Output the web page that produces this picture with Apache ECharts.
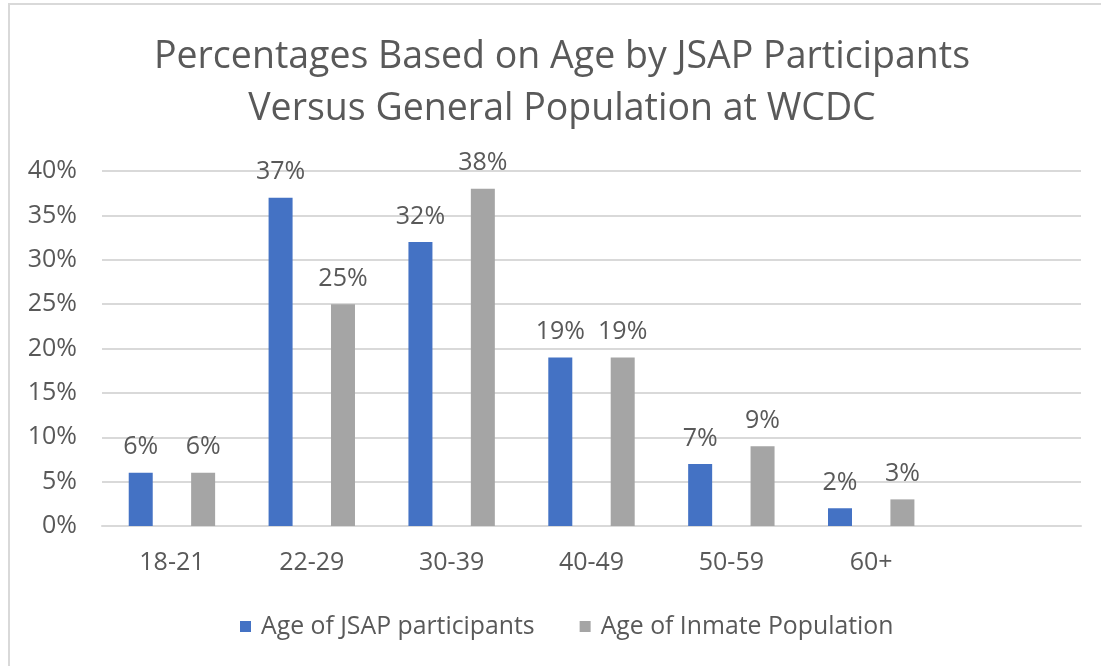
<!DOCTYPE html>
<html>
<head>
<meta charset="utf-8">
<script src="https://cdn.jsdelivr.net/npm/echarts@6/dist/echarts.min.js"></script>
<style>
html, body { margin: 0; padding: 0; background: #fff; }
#frame {
    position: absolute; left: 8px; top: 3px; width: 1100px; height: 670px;
    border: 2px solid #d9d9d9; box-sizing: border-box;
}
#chart { position: absolute; left: 0; top: 0; width: 1101px; height: 666px; }
</style>
</head>
<body>
<div id="frame"></div>
<div id="chart"></div>
<script>
// age groups (last slot is empty in the original chart)
const categories = ['18-21', '22-29', '30-39', '40-49', '50-59', '60+', ''];
const jsapValues = [6, 37, 32, 19, 7, 2, null];
const inmateValues = [6, 25, 38, 19, 9, 3, null];
const yTicks = [0, 5, 10, 15, 20, 25, 30, 35, 40];

const FONT = '"Open Sans", "Noto Sans", sans-serif';
const TXT = '#595959';

const chart = echarts.init(document.getElementById('chart'));

const barLabel = {
    show: true,
    position: 'top',
    distance: 13,
    formatter: '{c}%',
    color: TXT,
    fontSize: 25,
    fontFamily: FONT
};

chart.setOption({
    animation: false,
    backgroundColor: 'transparent',
    title: {
        text: 'Percentages Based on Age by JSAP Participants\nVersus General Population at WCDC',
        left: 557,
        textAlign: 'center',
        top: 26,
        textStyle: {
            color: TXT,
            fontSize: 37.5,
            fontWeight: 'normal',
            fontFamily: FONT,
            lineHeight: 52
        }
    },
    legend: {
        top: 609,
        left: 235,
        itemWidth: 11,
        itemHeight: 11,
        itemGap: 45,
        icon: 'rect',
        textStyle: { color: TXT, fontSize: 24.8, fontFamily: FONT, padding: [0, 0, 0, 5] }
    },
    grid: { left: 102, right: 20, top: 171, bottom: 140 },
    xAxis: {
        type: 'category',
        data: categories,
        axisLine: { lineStyle: { color: '#d9d9d9', width: 2 } },
        axisTick: { show: false },
        axisLabel: { color: TXT, fontSize: 25, fontFamily: FONT, margin: 24 }
    },
    yAxis: {
        type: 'value',
        min: yTicks[0],
        max: yTicks[yTicks.length - 1],
        interval: 5,
        axisLine: { show: false },
        axisTick: { show: false },
        splitLine: { lineStyle: { color: '#d9d9d9', width: 2 } },
        axisLabel: { color: TXT, fontSize: 25, fontFamily: FONT, margin: 25, formatter: '{value}%' }
    },
    series: [
        {
            name: 'Age of JSAP participants',
            type: 'bar',
            data: jsapValues,
            barWidth: 24,
            barGap: '160%',
            itemStyle: { color: '#4472c4' },
            label: barLabel
        },
        {
            name: 'Age of Inmate Population',
            type: 'bar',
            data: inmateValues,
            barWidth: 24,
            itemStyle: { color: '#a5a5a5' },
            label: barLabel
        }
    ]
});
</script>
</body>
</html>
